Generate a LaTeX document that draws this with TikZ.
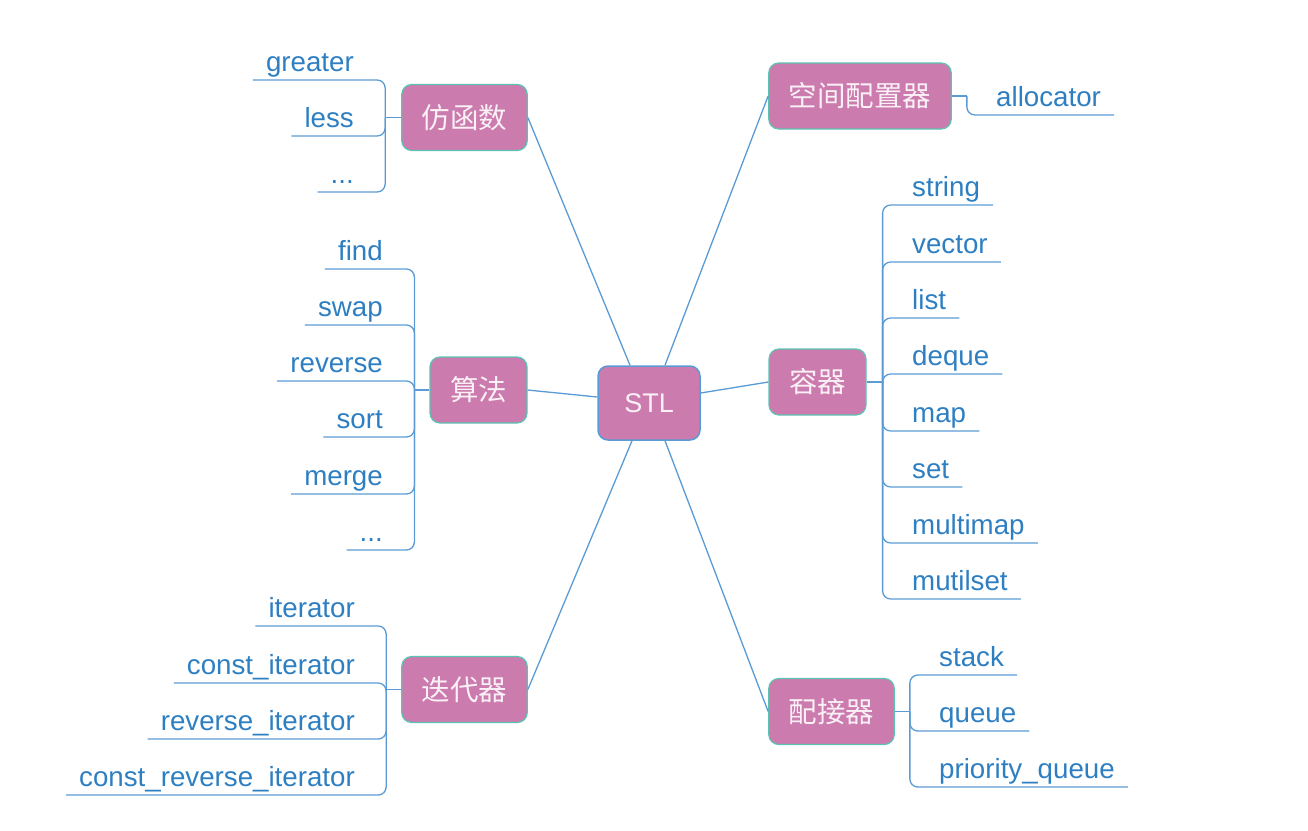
\documentclass[tikz,border=0pt]{standalone}
\usepackage{fontspec}
\setmainfont{Liberation Sans}
\newfontfamily\cjk{Noto Sans CJK SC}
\definecolor{nodefill}{HTML}{CB7BAD}
\definecolor{nodetext}{HTML}{FAF0F6}
\definecolor{tealrim}{HTML}{5CC3B2}
\definecolor{bluerim}{HTML}{5B9BD5}
\definecolor{linkblue}{HTML}{5A9BD5}
\definecolor{leafblue}{HTML}{2E7FC2}
\tikzset{
  stlbox/.style={rectangle, rounded corners=10pt, draw=bluerim, line width=1.5pt,
    fill=nodefill, text=nodetext, font=\fontsize{27}{32}\selectfont,
    minimum width=102pt, minimum height=74pt},
  topicbox/.style={rectangle, rounded corners=10pt, draw=tealrim, line width=1.2pt,
    fill=nodefill, text=nodetext, font=\cjk\fontsize{28.5}{34}\selectfont,
    inner xsep=20pt, minimum height=66pt},
  leafitem/.style={text=leafblue, font=\fontsize{27.7}{33}\selectfont,
    inner xsep=13pt, inner ysep=1pt, text height=20pt, text depth=7pt},
  link/.style={draw=linkblue, line width=1.3pt},
  twig/.style={draw=linkblue, line width=1.3pt, rounded corners=8pt}
}
\begin{document}
\begin{tikzpicture}[x=1pt, y=-1pt]
  \useasboundingbox (0,0) rectangle (1308,830);
  % centre and main topics
  \node[stlbox] (stl) at (649,403) {STL};
  \node[topicbox] (functor) at (464.5,117.5) {仿函数};
  \node[topicbox] (algo) at (478.5,390) {算法};
  \node[topicbox] (iter) at (464.5,689.5) {迭代器};
  \node[topicbox] (alloc) at (860,96) {空间配置器};
  \node[topicbox] (cont) at (817.5,382) {容器};
  \node[topicbox] (adapt) at (831.5,711.5) {配接器};
  \draw[link] (functor.east) -- ([xshift=-19pt]stl.north);
  \draw[link] (alloc.west) -- ([xshift=16pt]stl.north);
  \draw[link] (algo.east) -- ([yshift=6pt]stl.west);
  \draw[link] (cont.west) -- ([yshift=10pt]stl.east);
  \draw[link] (iter.east) -- ([xshift=-17pt]stl.south);
  \draw[link] (adapt.west) -- ([xshift=16pt]stl.south);
  % junctions of the brackets
  \coordinate (fj) at ([xshift=-16pt]functor.west);
  \coordinate (aj) at ([xshift=-15pt]algo.west);
  \coordinate (ij) at ([xshift=-15pt]iter.west);
  \coordinate (lj) at ([xshift=15pt]alloc.east);
  \coordinate (cj) at ([xshift=16pt]cont.east);
  \coordinate (pj) at ([xshift=15pt]adapt.east);
  \draw[link] (functor.west) -- (fj);
  \draw[link] (algo.west) -- (aj);
  \draw[link] (iter.west) -- (ij);
  \draw[link] (alloc.east) -- (lj);
  \draw[link] (cont.east) -- (cj);
  \draw[link] (adapt.east) -- (pj);
  % functors
  \node[leafitem, anchor=south east] (greater) at (367,80) {greater};
  \node[leafitem, anchor=south east] (less) at (367,136) {less};
  \node[leafitem, anchor=south east] (fmore) at (367,192) {...};
  \draw[twig] (fj) |- (greater.south west);
  \draw[twig] (fj) |- (less.south west);
  \draw[twig] (fj) |- (fmore.south west);
  % algorithms
  \node[leafitem, anchor=south east] (find) at (396,269) {find};
  \node[leafitem, anchor=south east] (swap) at (396,325) {swap};
  \node[leafitem, anchor=south east] (reverse) at (396,381) {reverse};
  \node[leafitem, anchor=south east] (sort) at (396,437) {sort};
  \node[leafitem, anchor=south east] (merge) at (396,494) {merge};
  \node[leafitem, anchor=south east] (amore) at (396,550) {...};
  \draw[twig] (aj) |- (find.south west);
  \draw[twig] (aj) |- (swap.south west);
  \draw[twig] (aj) |- (reverse.south west);
  \draw[twig] (aj) |- (sort.south west);
  \draw[twig] (aj) |- (merge.south west);
  \draw[twig] (aj) |- (amore.south west);
  % iterators
  \node[leafitem, anchor=south east] (it) at (368,626) {iterator};
  \node[leafitem, anchor=south east] (cit) at (368,683) {const\_iterator};
  \node[leafitem, anchor=south east] (rit) at (368,739) {reverse\_iterator};
  \node[leafitem, anchor=south east] (crit) at (368,795) {const\_reverse\_iterator};
  \draw[twig] (ij) |- (it.south west);
  \draw[twig] (ij) |- (cit.south west);
  \draw[twig] (ij) |- (rit.south west);
  \draw[twig] (ij) |- (crit.south west);
  % allocator
  \node[leafitem, anchor=south west] (allocator) at (983,115) {allocator};
  \draw[twig] (lj) |- (allocator.south east);
  % containers
  \node[leafitem, anchor=south west] (string) at (899,205) {string};
  \node[leafitem, anchor=south west] (vector) at (899,262) {vector};
  \node[leafitem, anchor=south west] (list) at (899,318) {list};
  \node[leafitem, anchor=south west] (deque) at (899,374) {deque};
  \node[leafitem, anchor=south west] (map) at (899,431) {map};
  \node[leafitem, anchor=south west] (set) at (899,487) {set};
  \node[leafitem, anchor=south west] (multimap) at (899,543) {multimap};
  \node[leafitem, anchor=south west] (mutilset) at (899,599) {mutilset};
  \draw[twig] (cj) |- (string.south east);
  \draw[twig] (cj) |- (vector.south east);
  \draw[twig] (cj) |- (list.south east);
  \draw[twig] (cj) |- (deque.south east);
  \draw[twig] (cj) |- (map.south east);
  \draw[twig] (cj) |- (set.south east);
  \draw[twig] (cj) |- (multimap.south east);
  \draw[twig] (cj) |- (mutilset.south east);
  % adapters
  \node[leafitem, anchor=south west] (stack) at (926,675) {stack};
  \node[leafitem, anchor=south west] (queue) at (926,731) {queue};
  \node[leafitem, anchor=south west] (pqueue) at (926,787) {priority\_queue};
  \draw[twig] (pj) |- (stack.south east);
  \draw[twig] (pj) |- (queue.south east);
  \draw[twig] (pj) |- (pqueue.south east);
\end{tikzpicture}
\end{document}
